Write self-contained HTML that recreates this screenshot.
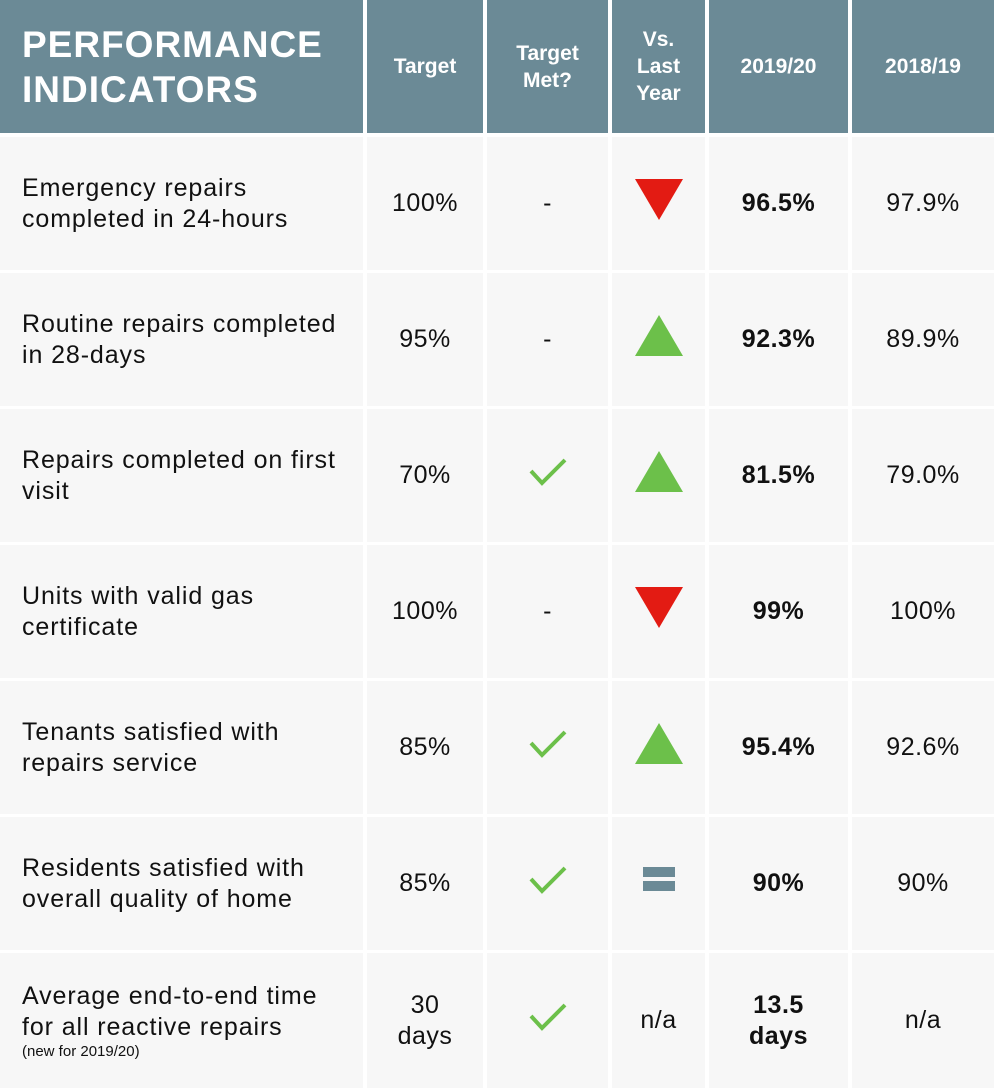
<!DOCTYPE html>
<html><head><meta charset="utf-8"><style>
body{margin:0;width:994px;height:1088px;background:#fff;font-family:"Liberation Sans",sans-serif;position:relative;overflow:hidden}
.c{position:absolute;background:#f7f7f7;display:flex;align-items:center;justify-content:center;text-align:center;font-size:25px;letter-spacing:0.5px;color:#111;line-height:31px}
.h{background:#6b8a96;color:#fff;font-weight:bold;font-size:21px;line-height:27px;letter-spacing:0}
.l{justify-content:flex-start;text-align:left;padding-left:22px;box-sizing:border-box;letter-spacing:0.9px}
.b{font-weight:bold}
small{font-size:15px;display:block;line-height:18px;letter-spacing:0}
</style></head><body>
<div id="t"></div>
<script>
const colX=[0,367,487,612,709,852];
const colW=[363,116,121,93,139,142];
const headers=['PERFORMANCE<br>INDICATORS','Target','Target<br>Met?','Vs.<br>Last<br>Year','2019/20','2018/19'];
const labels=['Emergency repairs<br>completed in 24-hours','Routine repairs completed<br>in 28-days','Repairs completed on first<br>visit','Units with valid gas<br>certificate','Tenants satisfied with<br>repairs service','Residents satisfied with<br>overall quality of home','Average end-to-end time<br>for all reactive repairs<small>(new for 2019/20)</small>'];
const targets=['100%','95%','70%','100%','85%','85%','30<br>days'];
const met=['-','-','y','-','y','y','y'];
const trend=['down','up','up','down','up','eq','n/a'];
const cur=['96.5%','92.3%','81.5%','99%','95.4%','90%','13.5<br>days'];
const prev=['97.9%','89.9%','79.0%','100%','92.6%','90%','n/a'];
const t=document.getElementById('t');
function cell(x,y,w,h,html,cls,name){const d=document.createElement('div');d.className='c '+cls;d.style.cssText=`left:${x}px;top:${y}px;width:${w}px;height:${h}px`;d.innerHTML='<div>'+html+'</div>';


t.appendChild(d);return d;}
const chk='<svg width="40" height="30"><polyline points="3,14 14,26 37,3" fill="none" stroke="#6cc04a" stroke-width="4"/></svg>';
const up='<svg width="48" height="41"><polygon points="24,0 48,41 0,41" fill="#6cc04a"/></svg>';
const dn='<svg width="48" height="41"><polygon points="0,0 48,0 24,41" fill="#e31b13"/></svg>';
const eq='<svg width="32" height="25"><rect x="0" y="0" width="32" height="10" fill="#6b8a96"/><rect x="0" y="14" width="32" height="10" fill="#6b8a96"/></svg>';
headers.forEach((h,i)=>{const d=cell(colX[i],0,colW[i],133,h,'h'+(i==0?' l':''),'header-'+i);if(i==0){d.style.fontSize='37px';d.style.lineHeight='45px';d.style.letterSpacing='1px';}});
for(let r=0;r<labels.length;r++){const y=137+r*136,h=r==6?135:133;
cell(colX[0],y,colW[0],h,labels[r],'l','row-label-'+r);
cell(colX[1],y,colW[1],h,targets[r],'','target-'+r);
cell(colX[2],y,colW[2],h,met[r]=='y'?chk:'-','','target-met-'+r);
const tr=trend[r];cell(colX[3],y,colW[3],h,tr=='up'?up:tr=='down'?dn:tr=='eq'?eq:tr,'','trend-'+r);
cell(colX[4],y,colW[4],h,cur[r],'b','value-2019-'+r);
cell(colX[5],y,colW[5],h,prev[r],'','value-2018-'+r);}
</script>
</body></html>
